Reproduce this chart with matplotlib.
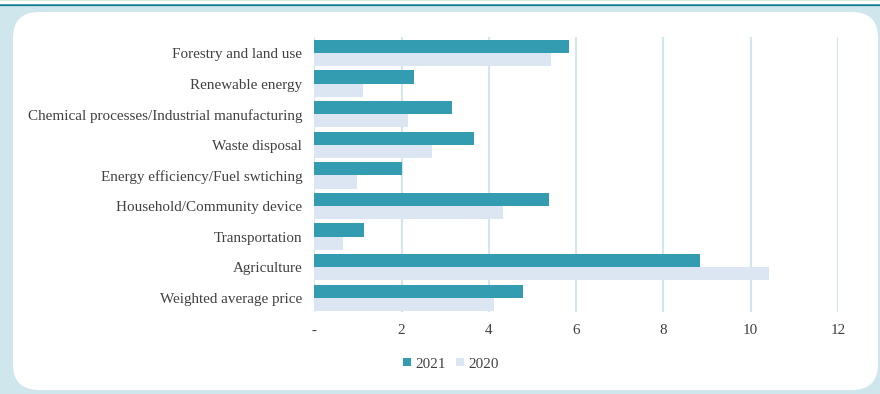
"""
Carbon price by project type (2021 vs 2020), horizontal grouped bars.
"""
import matplotlib

matplotlib.use("Agg")
import matplotlib.pyplot as plt
from matplotlib.lines import Line2D
from matplotlib.patches import FancyBboxPatch, Patch
import numpy as np

categories = [
    "Forestry and land use",
    "Renewable energy",
    "Chemical processes/Industrial manufacturing",
    "Waste disposal",
    "Energy efficiency/Fuel swtiching",
    "Household/Community device",
    "Transportation",
    "Agriculture",
    "Weighted average price",
]
values_2021 = [5.84, 2.29, 3.16, 3.65, 2.01, 5.38, 1.15, 8.84, 4.78]
values_2020 = [5.43, 1.11, 2.15, 2.70, 0.97, 4.33, 0.65, 10.43, 4.11]
xticks = [0, 2, 4, 6, 8, 10, 12]
xticklabels = ["-", "2", "4", "6", "8", "10", "12"]

DARK = "#339cb1"
LIGHT = "#dce6f2"
GRID = "#d2e7ed"
BG = "#cfe6ec"
TXT = "#404040"

plt.rcParams["font.family"] = ["Liberation Serif", "DejaVu Serif"]
FS = 10.9

W, H = 880, 394
fig = plt.figure(figsize=(W / 100, H / 100), dpi=100, facecolor=BG)

# white rounded panel + dark top rule
panel = FancyBboxPatch(
    (13 / 100, 4 / 100), (878 - 13) / 100, (382 - 4) / 100,
    boxstyle="round,pad=0,rounding_size=0.26",
    transform=fig.dpi_scale_trans, facecolor="white", edgecolor="none", zorder=-5,
)
fig.patches.append(panel)
fig.add_artist(Line2D([0, 1], [1 - 4.5 / H] * 2, transform=fig.transFigure,
                      color="#137f93", linewidth=1.6, zorder=-4))
fig.add_artist(Line2D([0, 1], [1 - 1.5 / H] * 2, transform=fig.transFigure,
                      color="white", linewidth=2.5, zorder=-4))

ax = fig.add_axes([314.3 / W, 1 - 312 / H, (838 - 314.3) / W, (312 - 37) / H])
ax.set_facecolor("none")
ax.set_zorder(2)

y = np.arange(len(categories))
h = 0.43
ax.barh(y - h / 2, values_2021, height=h, color=DARK, label="2021", zorder=3)
ax.barh(y + h / 2, values_2020, height=h, color=LIGHT, label="2020", zorder=3)

ax.set_xlim(0, 12)
ax.set_ylim(8.46, -0.52)
ax.set_xticks(xticks)
ax.set_xticklabels(xticklabels, fontsize=FS, color=TXT)
ax.set_yticks(y)
ax.set_yticklabels(categories, fontsize=FS, color=TXT)
ax.tick_params(axis="both", length=0)
ax.tick_params(axis="y", pad=8.6)
ax.tick_params(axis="x", pad=9)
for s in ax.spines.values():
    s.set_visible(False)
for xv in xticks:
    ax.axvline(xv, color=GRID, linewidth=1.5, zorder=1)

handles = [Patch(facecolor=DARK, edgecolor="none"), Patch(facecolor=LIGHT, edgecolor="none")]
fig.legend(handles, ["2021", "2020"], loc="center", bbox_to_anchor=(451 / W, 1 - 364 / H),
           ncol=2, frameon=False, fontsize=FS, handlelength=0.5, handleheight=0.5,
           handletextpad=0.3, columnspacing=0.7, labelcolor=TXT)

fig.savefig("out.png", dpi=100, facecolor=BG)
